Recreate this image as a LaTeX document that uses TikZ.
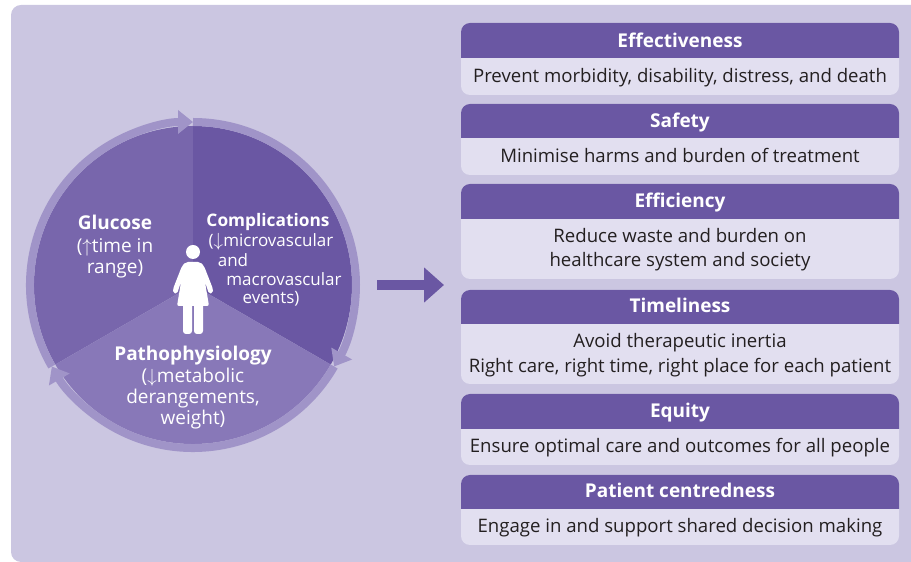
\documentclass[tikz,border=0pt]{standalone}
\usepackage{fontspec}
\setmainfont{Open Sans}
\usetikzlibrary{arrows.meta}
\usetikzlibrary{calc}
\definecolor{PanelBack}{RGB}{203,198,225}
\definecolor{BodyBack}{RGB}{226,223,240}
\definecolor{HeadBack}{RGB}{106,87,163}
\definecolor{GlucoseBack}{RGB}{120,102,172}
\definecolor{ComplBack}{RGB}{106,87,163}
\definecolor{PathoBack}{RGB}{136,120,184}
\definecolor{RingBack}{RGB}{160,148,200}
\definecolor{BodyText}{RGB}{35,31,32}
\newcommand{\upmark}{\smash{\scalebox{1.1}{$\uparrow$}}}
\newcommand{\downmark}{\smash{\scalebox{1.1}{$\downarrow$}}}

\begin{document}
\begin{tikzpicture}[x=1pt,y=1pt,
		headtext/.style={anchor=base,text=white,font=\fontsize{19}{21}\selectfont\bfseries,inner sep=0pt},
		bodytext/.style={anchor=base,text=BodyText,font=\fontsize{18.6}{20}\selectfont,inner sep=0pt},
		wheeltitle/.style={anchor=base,text=white,font=\fontsize{19}{21}\selectfont\bfseries,inner sep=0pt},
		wheeltext/.style={anchor=base,text=white,font=\fontsize{19}{21}\selectfont,inner sep=0pt},
		compltitle/.style={anchor=base,text=white,font=\fontsize{17.3}{19}\selectfont\bfseries,inner sep=0pt},
		compltext/.style={anchor=base,text=white,font=\fontsize{17}{19}\selectfont,inner sep=0pt},
		ringarc/.style={draw=RingBack,line width=8pt,-{Triangle[length=15pt,width=23pt,fill=RingBack]}}]
	\useasboundingbox (0,0) rectangle (911,562);
	\fill[PanelBack,rounded corners=10pt] (11,0) rectangle (930,557);

	% wheel
	\coordinate (wheelC) at (193,277);
	\fill[GlucoseBack] (wheelC) -- ($(wheelC)+(210:159)$) arc[start angle=210,end angle=90,radius=159] -- cycle;
	\fill[ComplBack] (wheelC) -- ($(wheelC)+(90:159)$) arc[start angle=90,end angle=-30,radius=159] -- cycle;
	\fill[PathoBack] (wheelC) -- ($(wheelC)+(-30:159)$) arc[start angle=-30,end angle=-150,radius=159] -- cycle;
	\draw[ringarc] ($(wheelC)+(90:163)$) arc[start angle=90,end angle=-30,radius=163];
	\draw[ringarc] ($(wheelC)+(-30:163)$) arc[start angle=-30,end angle=-150,radius=163];
	\draw[ringarc] ($(wheelC)+(210:163)$) arc[start angle=210,end angle=90,radius=163];

	% woman
	\fill[white] (193,310) circle (7);
	\fill[white,rounded corners=2pt] (186,300) -- (200,300) -- (204,296) -- (213,273) -- (213,269) -- (209,268) -- (205,280) -- (209,256) -- (177,256) -- (181,280) -- (177,268) -- (173,269) -- (173,273) -- (182,296) -- cycle;
	\fill[white,rounded corners=3pt] (183,260) -- (192,260) -- (192,228) -- (183,228) -- cycle;
	\fill[white,rounded corners=3pt] (194,260) -- (203,260) -- (203,228) -- (194,228) -- cycle;

	\node[wheeltitle] (glucoseT) at (115,332) {Glucose};
	\node[wheeltext] (glucoseA) at (115,309) {(\upmark time in};
	\node[wheeltext] (glucoseB) at (115,288) {range)};
	\node[compltitle] (complT) at (268,335) {Complications};
	\node[compltext] (complA) at (271,315) {(\downmark microvascular};
	\node[compltext] (complB) at (233,295) {and};
	\node[compltext] (complC) at (284,276) {macrovascular};
	\node[compltext] (complD) at (271,258) {events)};
	\node[wheeltitle] (pathoT) at (193,201) {Pathophysiology};
	\node[wheeltext] (pathoA) at (193,179) {(\downmark metabolic};
	\node[wheeltext] (pathoB) at (193,158) {derangements,};
	\node[wheeltext] (pathoC) at (193,137) {weight)};

	% arrow to the list
	\coordinate (arrowA) at (377,277);
	\coordinate (arrowB) at (444,277);
	\draw[HeadBack,line width=9.5pt,-{Triangle[length=20pt,width=34pt]}] (arrowA) -- (arrowB);

	% list
	\fill[BodyBack,rounded corners=9pt] (461,467) rectangle (899,539);
	\fill[HeadBack] (461,504) [rounded corners=9pt] -- (461,539) -- (899,539) [sharp corners] -- (899,504) -- cycle;
	\node[headtext] (effectT) at (680,514) {Effectiveness};
	\node[bodytext] (effectA) at (680,479) {Prevent morbidity, disability, distress, and death};

	\fill[BodyBack,rounded corners=9pt] (461,387) rectangle (899,458);
	\fill[HeadBack] (461,424) [rounded corners=9pt] -- (461,458) -- (899,458) [sharp corners] -- (899,424) -- cycle;
	\node[headtext] (safetyT) at (680,434) {Safety};
	\node[bodytext] (safetyA) at (680,399) {Minimise harms and burden of treatment};

	\fill[BodyBack,rounded corners=9pt] (461,283) rectangle (899,378);
	\fill[HeadBack] (461,343) [rounded corners=9pt] -- (461,378) -- (899,378) [sharp corners] -- (899,343) -- cycle;
	\node[headtext] (efficT) at (680,354) {Efficiency};
	\node[bodytext] (efficA) at (680,319) {Reduce waste and burden on};
	\node[bodytext] (efficB) at (680,295) {healthcare system and society};

	\fill[BodyBack,rounded corners=9pt] (461,178) rectangle (899,272);
	\fill[HeadBack] (461,238) [rounded corners=9pt] -- (461,272) -- (899,272) [sharp corners] -- (899,238) -- cycle;
	\node[headtext] (timeT) at (680,249) {Timeliness};
	\node[bodytext] (timeA) at (680,214) {Avoid therapeutic inertia};
	\node[bodytext] (timeB) at (680,189) {Right care, right time, right place for each patient};

	\fill[BodyBack,rounded corners=9pt] (461,97) rectangle (899,168);
	\fill[HeadBack] (461,133) [rounded corners=9pt] -- (461,168) -- (899,168) [sharp corners] -- (899,133) -- cycle;
	\node[headtext] (equityT) at (680,144) {Equity};
	\node[bodytext] (equityA) at (680,109) {Ensure optimal care and outcomes for all people};

	\fill[BodyBack,rounded corners=9pt] (461,17) rectangle (899,87);
	\fill[HeadBack] (461,53) [rounded corners=9pt] -- (461,87) -- (899,87) [sharp corners] -- (899,53) -- cycle;
	\node[headtext] (centreT) at (680,64) {Patient centredness};
	\node[bodytext] (centreA) at (680,29) {Engage in and support shared decision making};
\end{tikzpicture}
\end{document}
